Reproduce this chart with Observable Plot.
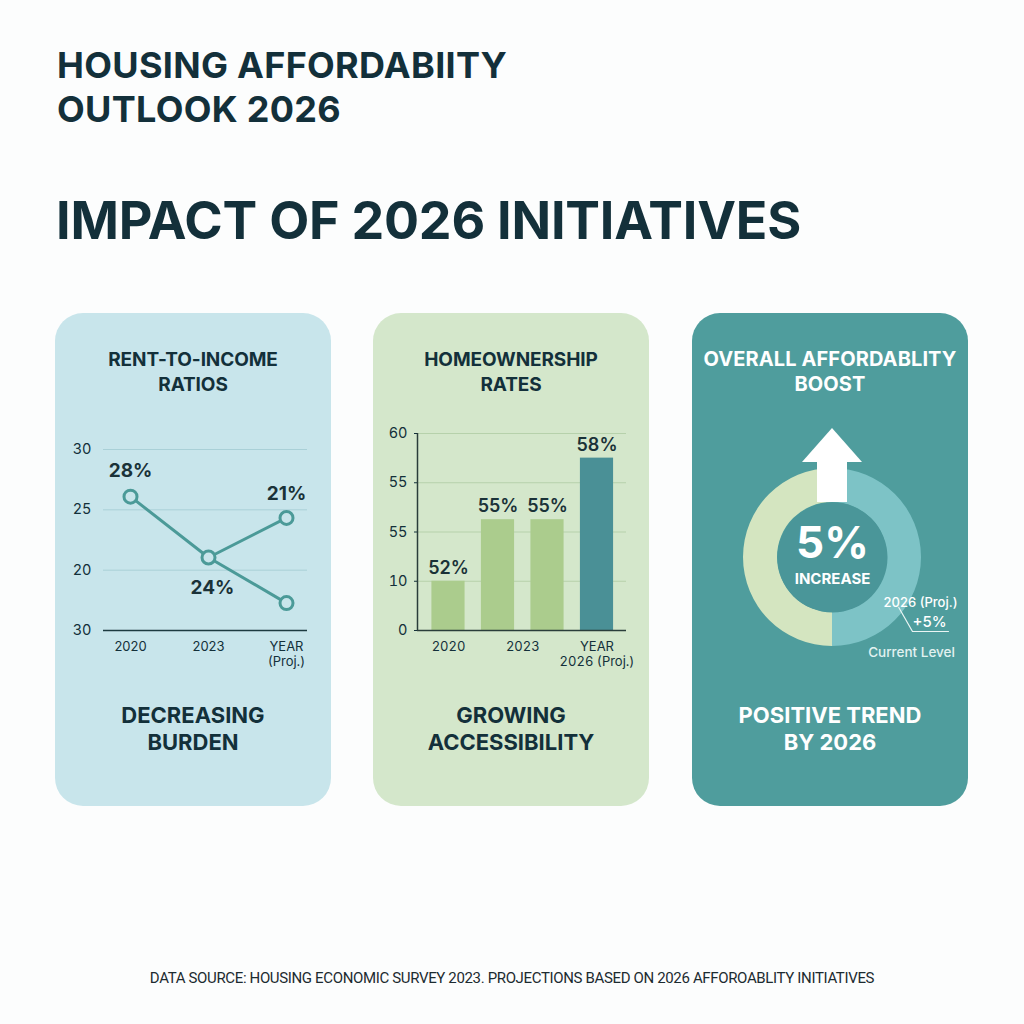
<!DOCTYPE html>
<html>
<head>
<meta charset="utf-8">
<script src="https://cdn.jsdelivr.net/npm/d3@7"></script>
<script src="https://cdn.jsdelivr.net/npm/@observablehq/plot@0.6"></script>
<style>
  body { margin: 0; background: #fcfdfd; }
  #page { position: relative; width: 1024px; height: 1024px; overflow: hidden;
          font-family: Inter, "Noto Sans", sans-serif; color: #13303a; background: #fcfdfd; }
  .title { position: absolute; left: 57px; font-size: 36px; font-weight: 700;
           line-height: 40px; letter-spacing: 0.3px; white-space: nowrap; }
  .headline { position: absolute; left: 56px; top: 191px; font-size: 52px; font-weight: 700;
              line-height: 60px; letter-spacing: -0.2px; white-space: nowrap; }
  .panel { position: absolute; top: 313px; width: 276px; height: 493px; border-radius: 28px; }
  .ptitle { position: absolute; left: 0; right: 0; top: 34px; text-align: center;
            font-size: 19px; font-weight: 700; line-height: 25px; letter-spacing: -0.1px; }
  .pfoot { position: absolute; left: 0; right: 0; top: 389px; text-align: center;
           font-size: 22px; font-weight: 700; line-height: 27px; letter-spacing: 0px; }
  .chart { position: absolute; }
  .chart svg { overflow: visible; }
  .source { position: absolute; left: 0; right: 0; top: 969px; text-align: center;
            font-family: Roboto, sans-serif; font-size: 15px; letter-spacing: -0.35px; color: #1c2b30; }
</style>
</head>
<body>
<div id="page">
  <div class="title" style="top:45px;">HOUSING AFFORDABIITY</div>
  <div class="title" style="top:89px;">OUTLOOK 2026</div>
  <div class="headline">IMPACT OF 2026 INITIATIVES</div>

  <div class="panel" style="left:55px;background:#c8e5eb;">
    <div class="ptitle">RENT-TO-INCOME<br>RATIOS</div>
    <div class="pfoot">DECREASING<br>BURDEN</div>
  </div>
  <div class="panel" style="left:373px;background:#d4e7cb;">
    <div class="ptitle">HOMEOWNERSHIP<br>RATES</div>
    <div class="pfoot">GROWING<br>ACCESSIBILITY</div>
  </div>
  <div class="panel" style="left:692px;background:#4f9d9d;color:#ffffff;">
    <div class="ptitle" style="left:-10px;right:-10px;font-size:20px;letter-spacing:0.1px;">OVERALL AFFORDABLITY<br>BOOST</div>
    <div class="pfoot">POSITIVE TREND<br>BY 2026</div>
  </div>

  <div id="rent" class="chart" style="left:55px;top:410px;"></div>
  <div id="own" class="chart" style="left:373px;top:410px;"></div>
  <div id="boost" class="chart" style="left:692px;top:400px;"></div>

  <div class="source">DATA SOURCE: HOUSING ECONOMIC SURVEY 2023. PROJECTIONS BASED ON 2026 AFFOROABLITY INITIATIVES</div>
</div>

<script>
// ---- Rent-to-income ratios (%) ----
const rentYears = ["2020", "2023", "YEAR\n(Proj.)"];
const rentValues = [28, 24, 21];          // main series
const rentBranchYears = ["2023", "YEAR\n(Proj.)"];
const rentBranchValues = [24, 26.6];      // upper projected branch
const rentTickLabels = ["30", "20", "25", "30"]; // bottom to top
const rentDomain = [19.2, 31.1];

// ---- Homeownership rates (%) ----
const ownLabels = ["2020", "2021", "2023", "2026"];
const ownValues = [52, 55, 55, 58];
const ownProjected = [false, false, false, true];
const ownTickLabels = ["0", "10", "55", "55", "60"]; // bottom to top
const ownDomain = [49.6, 59.2];
const ownAxisTicks = [0, 1.5, 3];
const ownAxisLabels = ["2020", "2023", "YEAR\n2026 (Proj.)"];

// ---- Overall affordability boost ----
const boostShares = ["2026 (Proj.)", "Current Level"];
const boostShareValues = [50, 50];
const boostIncrease = 5;

const dark = "#13303a";
const teal = "#4b9a98";

// evenly spaced tick positions across a domain, labelled from an array
function evenTicks(domain, labels) {
  const n = labels.length - 1;
  const values = d3.range(labels.length).map(i => domain[0] + (i * (domain[1] - domain[0])) / n);
  const map = new Map(values.map((v, i) => [v, labels[i]]));
  return { values, format: d => map.get(d) };
}

// ---------- Chart 1: line ----------
{
  const main = rentYears.map((year, i) => ({ year, value: rentValues[i] }));
  const branch = rentBranchYears.map((year, i) => ({ year, value: rentBranchValues[i] }));
  const ticks = evenTicks(rentDomain, rentTickLabels);
  const labels = main.map((d, i) => ({
    year: d.year,
    // projection label sits above the upper branch marker
    y: i === main.length - 1 ? branch[branch.length - 1].value : d.value,
    text: `${d.value}%`,
    dy: i === 1 ? 30 : i === 0 ? -26 : -24,
    dx: i === 1 ? 4 : 0
  }));
  const chart = Plot.plot({
    width: 275, height: 270,
    marginTop: 39, marginBottom: 50, marginLeft: 48, marginRight: 23,
    style: { background: "transparent", fontFamily: "Inter, sans-serif", color: dark },
    x: { type: "point", domain: rentYears, range: [74, 231], padding: 0 },
    y: { domain: rentDomain },
    marks: [
      Plot.ruleY(ticks.values.slice(1), { stroke: "#a9d0d7", strokeWidth: 1 }),
      Plot.ruleY([rentDomain[0]], { stroke: "#1d3a40", strokeWidth: 1.5 }),
      Plot.axisY({ ticks: ticks.values, tickFormat: ticks.format, tickSize: 0, tickPadding: 12, fontSize: 14.5, label: null }),
      Plot.axisX({ tickSize: 0, tickPadding: 10, fontSize: 13, lineHeight: 1.15, label: null }),
      Plot.line(main, { x: "year", y: "value", stroke: teal, strokeWidth: 3 }),
      Plot.line(branch, { x: "year", y: "value", stroke: teal, strokeWidth: 3 }),
      Plot.dot([...main, branch[branch.length - 1]], { x: "year", y: "value", r: 6.5, fill: "#c8e5eb", stroke: teal, strokeWidth: 3 }),
      ...labels.map(l => Plot.text([l], { x: "year", y: "y", text: "text", dy: l.dy, dx: l.dx, fontSize: 19, fontWeight: 700, fill: "#1a3238" }))
    ]
  });
  document.getElementById("rent").append(chart);
}

// ---------- Chart 2: bars ----------
{
  const data = ownLabels.map((label, i) => ({ i, label, value: ownValues[i], projected: ownProjected[i] }));
  const ticks = evenTicks(ownDomain, ownTickLabels);
  const axisMap = new Map(ownAxisTicks.map((t, i) => [t, ownAxisLabels[i]]));
  const half = 0.335;
  const chart = Plot.plot({
    width: 276, height: 270,
    marginTop: 23, marginBottom: 50, marginLeft: 44, marginRight: 23,
    style: { background: "transparent", fontFamily: "Inter, sans-serif", color: dark },
    x: { domain: [-0.626, 3.596] },
    y: { domain: ownDomain },
    marks: [
      Plot.ruleY(ticks.values.slice(1), { stroke: "#b6d1ab", strokeWidth: 1 }),
      Plot.rectY(data, { x1: d => d.i - half, x2: d => d.i + half, y1: ownDomain[0], y2: "value",
                         fill: d => d.projected ? "#4a9096" : "#abcc8d" }),
      Plot.ruleY([ownDomain[0]], { stroke: "#2a3d3a", strokeWidth: 1.5 }),
      Plot.ruleX([-0.626], { stroke: "#2a3d3a", strokeWidth: 1.5 }),
      Plot.axisY({ ticks: ticks.values, tickFormat: ticks.format, tickSize: 3, tickPadding: 7, fontSize: 14.5, label: null }),
      Plot.axisX({ ticks: ownAxisTicks, tickFormat: d => axisMap.get(d), tickSize: 0, tickPadding: 10, fontSize: 13, lineHeight: 1.15, label: null }),
      Plot.text(data, { x: "i", y: "value", text: d => `${d.value}%`, dy: -13, fontSize: 18, fontWeight: 600, fill: "#1a3238" })
    ]
  });
  document.getElementById("own").append(chart);
}

// ---------- Chart 3: donut ----------
{
  const outerR = 89, innerR = 55;
  const shareColors = new Map([["2026 (Proj.)", "#7dc3c6"], ["Current Level", "#d4e5c0"]]);
  const shares = boostShares.map((name, i) => ({ name, value: boostShareValues[i] }));

  function ring(index, scales) {
    const cx = scales.x(0), cy = scales.y(0);
    const k = scales.x(1) - scales.x(0);
    const arcs = d3.pie().sort(null).value(d => d.value)(shares);
    const arc = d3.arc().innerRadius(innerR * k).outerRadius(outerR * k);
    const g = d3.create("svg:g").attr("transform", `translate(${cx},${cy})`);
    g.selectAll("path").data(arcs).join("path").attr("d", arc).attr("fill", d => shareColors.get(d.data.name));
    return g.node();
  }

  const arrowHead = { base: outerR + 6, tip: outerR + 40, half: 30 };
  const arrowShaft = { half: 15, from: innerR, to: arrowHead.base };
  const headPts = [
    { x: -arrowHead.half, y: arrowHead.base },
    { x: 0, y: arrowHead.tip },
    { x: arrowHead.half, y: arrowHead.base }
  ];
  const leaderAngle = 127 * Math.PI / 180;
  const leaderStart = { x: (outerR - 6) * Math.sin(leaderAngle), y: (outerR - 6) * Math.cos(leaderAngle) };
  const leader = [leaderStart, { x: 80, y: -74 }, { x: 116, y: -74 }];

  const chart = Plot.plot({
    width: 277, height: 280,
    margin: 0,
    style: { background: "transparent", fontFamily: "Inter, sans-serif" },
    x: { domain: [-140, 137], range: [0, 277], axis: null },
    y: { domain: [-123, 157], range: [280, 0], axis: null },
    marks: [
      ring,
      Plot.dot([0], { x: 0, y: 0, r: innerR, fill: "#4a9699" }),
      Plot.rect([arrowShaft], { x1: d => -d.half, x2: d => d.half, y1: "from", y2: "to", fill: "#ffffff" }),
      Plot.areaY(headPts, { x: "x", y1: arrowHead.base, y2: "y", fill: "#ffffff" }),
      Plot.text([boostIncrease], { x: 0, y: 14, text: d => `${d}%`, fontSize: 44, fontWeight: 700, fill: "#ffffff" }),
      Plot.text(["INCREASE"], { x: 0, y: -22, text: d => d, fontSize: 15, fontWeight: 700, fill: "#ffffff" }),
      Plot.line(leader, { x: "x", y: "y", stroke: "#eaf5f4", strokeWidth: 1.2 }),
      Plot.text([boostShares[0]], { x: 88, y: -45, text: d => d, fontSize: 13, fontWeight: 500, fill: "#ffffff" }),
      Plot.text([boostIncrease], { x: 97, y: -65, text: d => `+${d}%`, fontSize: 15, fontWeight: 500, fill: "#ffffff" }),
      Plot.text([boostShares[1]], { x: 79, y: -95, text: d => d, fontSize: 13.5, fontWeight: 500, fill: "#e2f2f1" })
    ]
  });
  document.getElementById("boost").append(chart);
}
</script>
</body>
</html>
